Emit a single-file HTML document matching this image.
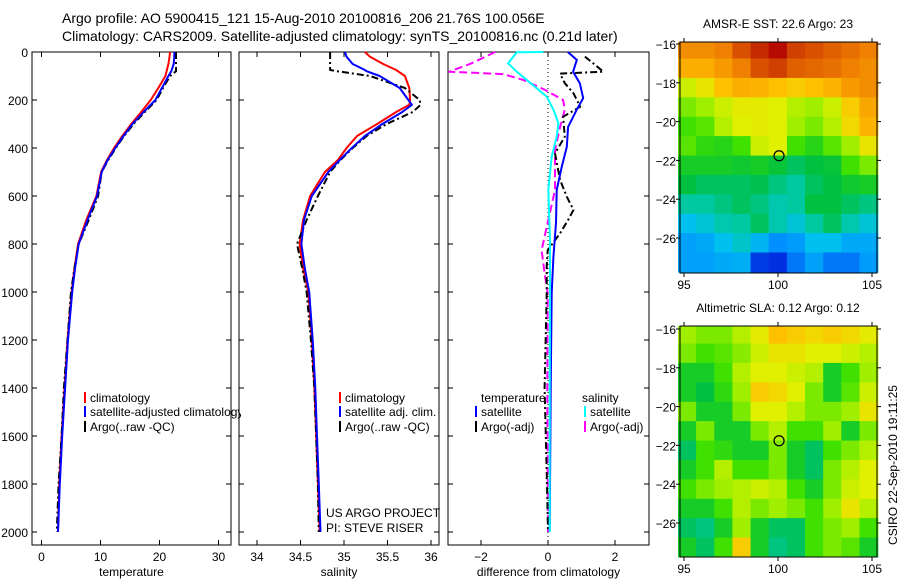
<!DOCTYPE html>
<html><head><meta charset="utf-8"><style>
html,body{margin:0;padding:0;background:#fff;}
svg{display:block;font-family:"Liberation Sans",sans-serif;}
</style></head><body>
<svg id="fig" width="900" height="580" viewBox="0 0 900 580">
<defs><clipPath id="clip1"><rect x="0" y="0" width="241" height="580"/></clipPath></defs>
<text x="62" y="23" font-size="14">Argo profile: AO 5900415_121 15-Aug-2010 20100816_206 21.76S 100.056E</text>
<text x="62" y="41" font-size="14">Climatology: CARS2009. Satellite-adjusted climatology: synTS_20100816.nc (0.21d later)</text>
<g id="g1"></g>
<g id="g2"></g>
<g id="g3"></g>
<g id="m1"></g>
<g id="m2"></g>
</svg>
<script>
// ---- data ----
const tDepth = [0,20,50,80,100,150,200,250,300,350,400,450,500,600,700,800,900,1000,1200,1400,1600,1800,2000];
const tClim  = [21.8,21.7,21.5,21.2,21.0,19.8,18.5,16.9,15.2,13.7,12.3,11.1,10.1,9.3,7.6,6.2,5.6,5.1,4.4,3.9,3.4,3.0,2.8];
const tSat   = [22.5,22.5,22.4,22.0,21.5,20.4,19.3,17.3,15.4,13.9,12.5,11.2,10.2,9.4,7.8,6.3,5.7,5.2,4.5,4.0,3.5,3.1,2.8];
const tArgo  = [22.8,22.8,22.8,22.8,21.8,20.6,19.5,17.5,15.6,14.0,12.6,11.3,10.2,9.6,8.0,6.3,5.6,5.0,4.4,3.8,3.4,2.9,2.6];
const sDepth = [0,20,50,75,80,100,150,200,220,250,300,350,400,450,500,600,700,800,900,1000,1200,1400,1600,1800,2000];
const sClim  = [35.24,35.30,35.45,35.60,35.62,35.70,35.75,35.76,35.75,35.60,35.38,35.15,35.03,34.93,34.78,34.61,34.53,34.49,34.53,34.59,34.63,34.66,34.68,34.70,34.72];
const sSat   = [35.01,35.03,35.10,35.24,35.26,35.41,35.64,35.74,35.78,35.67,35.44,35.24,35.09,34.95,34.82,34.63,34.54,34.51,34.55,34.60,34.64,34.67,34.69,34.71,34.73];
const sArgo  = [34.84,34.84,34.84,34.84,34.92,35.30,35.70,35.87,35.88,35.79,35.49,35.26,35.10,34.96,34.84,34.70,34.57,34.46,34.52,34.57,34.62,34.66,34.68,34.70,34.71];
const dtSatDepth  = [0,33,82,130,192,240,312,395,479,575,713,854,1004,1400,2000];
const dtSat       = [0.59,0.86,0.75,0.95,1.05,0.86,0.60,0.56,0.41,0.26,0.24,0.16,0.11,0.08,0.05];
const dtArgoDepth = [19,47,82,90,130,172,228,270,353,422,533,603,658,700,755,826,894,1004,1400,1800,2000];
const dtArgo      = [1.10,1.35,1.65,0.36,0.50,0.76,0.96,0.45,0.50,0.21,0.36,0.56,0.76,0.60,0.36,-0.01,-0.04,-0.04,-0.10,-0.03,0.0];
const dsSatDepth  = [0,1,47,82,116,151,186,240,296,353,436,575,783,1004,1400,2000];
const dsSat       = [-0.14,-0.93,-1.19,-0.93,-0.64,-0.34,-0.04,0.16,0.31,0.26,0.11,0.01,0.06,0.06,0.05,0.05];
const dsArgoDepth = [0,47,82,92,116,158,200,240,312,409,575,729,826,922,1004,1400,2000];
const dsArgo      = [-1.58,-2.28,-2.95,-1.34,-0.75,-0.09,0.45,0.50,0.36,0.21,0.21,-0.04,-0.19,-0.10,-0.01,-0.02,0.0];
const depthTicks = [0,200,400,600,800,1000,1200,1400,1600,1800,2000];
const tTicks = [0,10,20,30];
const sTicks = [34,34.5,35,35.5,36];
const dTicks = [-2,0,2];
const sstGrid = [
[0.80,0.80,0.82,0.88,0.92,0.95,0.90,0.88,0.86,0.84,0.82],
[0.75,0.75,0.78,0.82,0.88,0.90,0.86,0.85,0.84,0.82,0.80],
[0.62,0.66,0.72,0.75,0.74,0.72,0.70,0.72,0.74,0.78,0.80],
[0.55,0.58,0.62,0.65,0.65,0.64,0.60,0.58,0.62,0.70,0.76],
[0.50,0.52,0.60,0.64,0.65,0.64,0.58,0.55,0.60,0.68,0.74],
[0.52,0.48,0.47,0.50,0.62,0.64,0.50,0.47,0.52,0.58,0.66],
[0.45,0.45,0.45,0.44,0.45,0.43,0.40,0.42,0.43,0.50,0.55],
[0.42,0.40,0.40,0.40,0.41,0.38,0.36,0.40,0.42,0.44,0.45],
[0.36,0.36,0.38,0.40,0.38,0.35,0.36,0.42,0.42,0.40,0.38],
[0.30,0.32,0.35,0.36,0.40,0.35,0.32,0.36,0.40,0.35,0.32],
[0.25,0.26,0.30,0.33,0.28,0.22,0.24,0.30,0.30,0.26,0.26],
[0.25,0.25,0.26,0.27,0.15,0.14,0.20,0.25,0.20,0.20,0.24]];
const slaGrid = [
[0.58,0.55,0.55,0.60,0.65,0.72,0.70,0.68,0.70,0.68,0.65],
[0.55,0.50,0.52,0.56,0.62,0.66,0.66,0.64,0.64,0.62,0.60],
[0.45,0.45,0.50,0.60,0.64,0.64,0.62,0.60,0.45,0.50,0.58],
[0.45,0.42,0.48,0.58,0.70,0.68,0.64,0.55,0.45,0.52,0.62],
[0.55,0.45,0.45,0.55,0.64,0.64,0.60,0.55,0.55,0.58,0.66],
[0.45,0.55,0.45,0.45,0.55,0.60,0.50,0.50,0.58,0.45,0.55],
[0.40,0.50,0.48,0.45,0.45,0.55,0.45,0.40,0.50,0.55,0.60],
[0.45,0.50,0.60,0.50,0.50,0.55,0.45,0.40,0.55,0.60,0.64],
[0.50,0.55,0.58,0.60,0.62,0.60,0.50,0.45,0.55,0.62,0.64],
[0.45,0.45,0.50,0.60,0.55,0.58,0.55,0.50,0.58,0.66,0.60],
[0.40,0.38,0.45,0.58,0.45,0.40,0.40,0.50,0.55,0.58,0.50],
[0.45,0.40,0.50,0.70,0.45,0.38,0.40,0.50,0.55,0.52,0.45]];
const lonTicks=[95,100,105];
const latTicks=[-16,-18,-20,-22,-24,-26];
const argoLon=100.056, argoLat=-21.76;

// ---- helpers ----
const NS='http://www.w3.org/2000/svg';
function mk(parent,tag,attrs,text){const e=document.createElementNS(NS,tag);for(const k in attrs)e.setAttribute(k,attrs[k]);if(text!==undefined)e.textContent=text;parent.appendChild(e);return e;}
const yD = d => 52 + d*0.24;
const PB = 545;

function panel(g,x0,x1,xs,ticks,fmt,label,name){
  const r=mk(g,'rect',{x:x0,y:52,width:x1-x0,height:PB-52,fill:'none',stroke:'#000','stroke-width':1});
  
  
  depthTicks.forEach(d=>{
    mk(g,'line',{x1:x0,x2:x0+5,y1:yD(d),y2:yD(d),stroke:'#000'});
    mk(g,'line',{x1:x1-5,x2:x1,y1:yD(d),y2:yD(d),stroke:'#000'});
  });
  ticks.forEach(t=>{
    const x=xs(t);
    mk(g,'line',{x1:x,x2:x,y1:PB,y2:PB-5,stroke:'#000'});
    mk(g,'line',{x1:x,x2:x,y1:52,y2:57,stroke:'#000'});
    const tl=mk(g,'text',{x:x,y:561,'font-size':12,'text-anchor':'middle'},fmt(t));
    
    
  });
  const al=mk(g,'text',{x:(x0+x1)/2,y:576,'font-size':12,'text-anchor':'middle'},label);
  
  
}
function line(g,xs,vals,depths,color,dash,name){
  const pts=vals.map((v,i)=>xs(v).toFixed(1)+','+yD(depths[i]).toFixed(1)).join(' ');
  const a={points:pts,fill:'none',stroke:color,'stroke-width':2,'stroke-linejoin':'round'};
  if(dash)a['stroke-dasharray']=dash;
  const p=mk(g,'polyline',a);
  
  
}
function legend(g,x,y,color,text,name){
  mk(g,'rect',{x:x-6,y:y-10,width:2,height:11,fill:color});
  const t=mk(g,'text',{x:x,y:y,'font-size':12},text);
  
  
}

// ---- panel 1 ----
const g1=document.getElementById('g1');
const xT=t=>41.5+5.9*t;
panel(g1,32,231,xT,tTicks,t=>String(t),'temperature','temperature');
depthTicks.forEach(d=>{const t=mk(g1,'text',{x:28,y:yD(d)+5,'font-size':12,'text-anchor':'end'},String(d));
  
  });
line(g1,xT,tClim,tDepth,'#f00',null,'temperature-climatology-line');
line(g1,xT,tArgo,tDepth,'#000','7,3,2,3','temperature-argo-line');
line(g1,xT,tSat,tDepth,'#00f',null,'temperature-satellite-line');
const lg1=mk(g1,'g',{'clip-path':'url(#clip1)'});
legend(lg1,90,402,'#f00','climatology','legend-climatology');
legend(lg1,90,416,'#00f','satellite-adjusted climatology','legend-satellite-adjusted');
legend(lg1,90,431,'#000','Argo(..raw -QC)','legend-argo');

// ---- panel 2 ----
const g2=document.getElementById('g2');
const xS=s=>257+87*(s-34);
panel(g2,239,439,xS,sTicks,s=>String(s),'salinity','salinity');
line(g2,xS,sClim,sDepth,'#f00',null,'salinity-climatology-line');
line(g2,xS,sArgo,sDepth,'#000','7,3,2,3','salinity-argo-line');
line(g2,xS,sSat,sDepth,'#00f',null,'salinity-satellite-line');
legend(g2,345,402,'#f00','climatology','legend-sal-climatology');
legend(g2,345,416,'#00f','satellite adj. clim.','legend-sal-satellite');
legend(g2,345,431,'#000','Argo(..raw -QC)','legend-sal-argo');
let t1=mk(g2,'text',{x:326,y:517,'font-size':12},'US ARGO PROJECT');


let t2=mk(g2,'text',{x:326,y:532,'font-size':12},'PI: STEVE RISER');



// ---- panel 3 ----
const g3=document.getElementById('g3');
const xDf=d=>548+33.5*d;
panel(g3,448,649,xDf,dTicks,d=>d<0?'\u2212'+(-d):String(d),'difference from climatology','difference');
mk(g3,'line',{x1:xDf(0),x2:xDf(0),y1:52,y2:PB,stroke:'#000','stroke-dasharray':'1,3'});
line(g3,xDf,dsArgo,dsArgoDepth,'#f0f','8,4','salinity-diff-argo-line');
line(g3,xDf,dtArgo,dtArgoDepth,'#000','7,3,2,3','temperature-diff-argo-line');
line(g3,xDf,dtSat,dtSatDepth,'#00f',null,'temperature-diff-satellite-line');
line(g3,xDf,dsSat,dsSatDepth,'#0ff',null,'salinity-diff-satellite-line');
let h1=mk(g3,'text',{x:481,y:402,'font-size':12},'temperature');


let h2=mk(g3,'text',{x:582,y:402,'font-size':12},'salinity');


legend(g3,481,416,'#00f','satellite','legend-temp-satellite');
legend(g3,481,431,'#000','Argo(-adj)','legend-temp-argo');
legend(g3,590,416,'#0ff','satellite','legend-sal-satellite-diff');
legend(g3,590,431,'#f0f','Argo(-adj)','legend-sal-argo-diff');

// ---- maps ----
const cstops=[[0.14,[0,48,224]],[0.22,[0,144,255]],[0.30,[0,192,240]],[0.36,[0,200,160]],[0.42,[0,192,64]],[0.50,[64,224,0]],[0.58,[160,238,0]],[0.64,[224,240,0]],[0.72,[255,192,0]],[0.82,[240,128,0]],[0.90,[208,64,0]],[0.96,[176,0,0]]];
function cmap(v){
  if(v<=cstops[0][0])return 'rgb('+cstops[0][1]+')';
  for(let i=1;i<cstops.length;i++){if(v<=cstops[i][0]){const a=cstops[i-1],b=cstops[i],f=(v-a[0])/(b[0]-a[0]);
    return 'rgb('+a[1].map((c,k)=>Math.round(c+(b[1][k]-c)*f)).join(',')+')';}}
  return 'rgb('+cstops[cstops.length-1][1]+')';
}
function map(g,top,bottom,lat16,grid,title,name){
  const L=680,R=877;
  const xL=lon=>778+18.8*(lon-100);
  const yL=lat=>lat16+19.4*(-16-lat);
  const rows=grid.length, cols=grid[0].length;
  const lon0=94.68, lon1=105.3, la0=-15.75, la1=-27.75;
  grid.forEach((row,i)=>row.forEach((v,j)=>{
    const xa=xL(lon0+(lon1-lon0)*j/cols), xb=xL(lon0+(lon1-lon0)*(j+1)/cols);
    const ya=yL(la0+(la1-la0)*i/rows), yb=yL(la0+(la1-la0)*(i+1)/rows);
    const c=mk(g,'rect',{x:xa.toFixed(1),y:Math.max(top,ya).toFixed(1),width:(xb-xa+0.6).toFixed(1),height:(Math.min(bottom,yb)-Math.max(top,ya)+0.6).toFixed(1),fill:cmap(v)});
    
    
  }));
  mk(g,'rect',{x:L,y:top,width:R-L,height:bottom-top,fill:'none',stroke:'#000'});
  lonTicks.forEach(lo=>{const x=xL(lo);
    mk(g,'line',{x1:x,x2:x,y1:top-4,y2:top,stroke:'#000'});
    mk(g,'line',{x1:x,x2:x,y1:bottom,y2:bottom+4,stroke:'#000'});
    const t=mk(g,'text',{x:x,y:bottom+16,'font-size':12,'text-anchor':'middle'},String(lo));
    
    });
  latTicks.forEach(la=>{const y=yL(la);
    mk(g,'line',{x1:L-4,x2:L,y1:y,y2:y,stroke:'#000'});
    mk(g,'line',{x1:R,x2:R+4,y1:y,y2:y,stroke:'#000'});
    const t=mk(g,'text',{x:676,y:y+5,'font-size':12,'text-anchor':'end'},'\u2212'+(-la));
    
    });
  const c=mk(g,'circle',{cx:xL(argoLon),cy:yL(argoLat),r:5,fill:'none',stroke:'#000','stroke-width':1.2});
  
  
  const tt=mk(g,'text',{x:778,y:top-14,'font-size':12,'text-anchor':'middle'},title);
  
  
}
map(document.getElementById('m1'),42,273,44,sstGrid,'AMSR-E SST: 22.6 Argo: 23','sst-map');
map(document.getElementById('m2'),326,557,329,slaGrid,'Altimetric SLA: 0.12 Argo: 0.12','sla-map');
const ts=mk(document.getElementById('fig'),'text',{x:0,y:0,'font-size':12,'text-anchor':'middle',transform:'translate(897,465) rotate(-90)'},'CSIRO 22-Sep-2010 19:11:25');


</script>
</body></html>
